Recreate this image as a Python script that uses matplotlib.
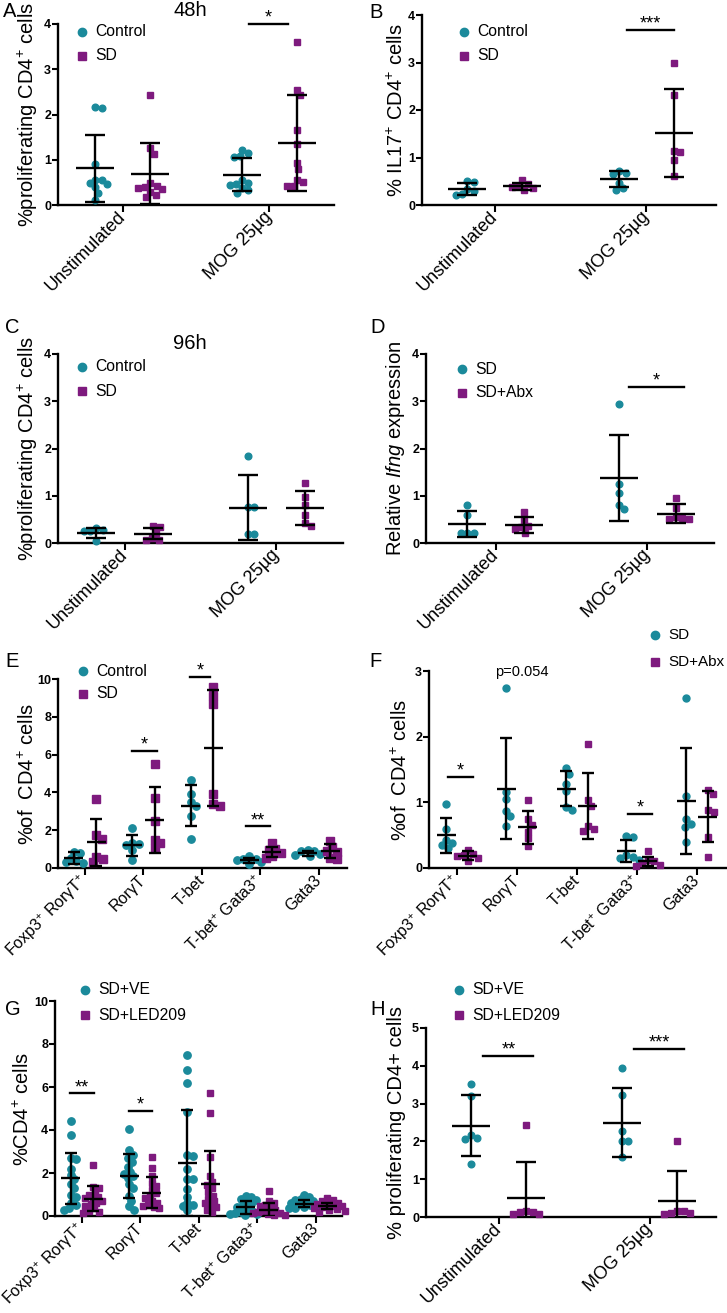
import numpy as np
import matplotlib
matplotlib.use('Agg')
import matplotlib.pyplot as plt
from matplotlib.lines import Line2D

plt.rcParams['font.family'] = ['Liberation Sans', 'DejaVu Sans']
plt.rcParams['mathtext.fontset'] = 'custom'
plt.rcParams['mathtext.rm'] = 'Liberation Sans'
plt.rcParams['mathtext.it'] = 'Liberation Sans:italic'
plt.rcParams['mathtext.bf'] = 'Liberation Sans:bold'

TEAL = '#1b8a9b'
PURPLE = '#7e1a7e'
W, H = 727, 1313

stim_labels = ['Unstimulated', 'MOG 25µg']
cell_labels = ['Foxp3$^{+}$ RorγT$^{+}$', 'RorγT', 'T-bet', 'T-bet$^{+}$ Gata3$^{+}$', 'Gata3']

# A - 48h proliferation
a_ctrl = [[2.17, 2.14, 0.91, 0.56, 0.55, 0.48, 0.46, 0.40, 0.27, 0.10],
          [1.22, 1.16, 1.08, 1.05, 0.55, 0.48, 0.46, 0.45, 0.37, 0.33, 0.27]]
a_sd = [[2.42, 1.25, 1.13, 0.48, 0.43, 0.39, 0.38, 0.35, 0.28, 0.22, 0.17],
        [3.61, 2.55, 2.42, 1.65, 1.35, 0.93, 0.79, 0.56, 0.51, 0.43, 0.42]]
a_ctrl_mean, a_ctrl_err = [0.81, 0.67], [0.735, 0.37]
a_sd_mean, a_sd_err = [0.69, 1.38], [0.67, 1.06]

# B - IL17
b_ctrl = [[0.50, 0.48, 0.33, 0.30, 0.24, 0.22],
          [0.71, 0.67, 0.65, 0.47, 0.35, 0.32]]
b_sd = [[0.52, 0.44, 0.40, 0.37, 0.35, 0.31],
        [3.00, 2.32, 1.13, 1.11, 0.95, 0.61]]
b_ctrl_mean, b_ctrl_err = [0.34, 0.55], [0.125, 0.165]
b_sd_mean, b_sd_err = [0.39, 1.52], [0.08, 0.93]

# C - 96h proliferation
c_ctrl = [[0.32, 0.27, 0.26, 0.25, 0.05],
          [1.85, 0.76, 0.76, 0.19, 0.19]]
c_sd = [[0.35, 0.34, 0.22, 0.10, 0.07, 0.06],
        [1.28, 0.98, 0.80, 0.60, 0.42, 0.35]]
c_ctrl_mean, c_ctrl_err = [0.22, 0.75], [0.105, 0.68]
c_sd_mean, c_sd_err = [0.20, 0.74], [0.125, 0.35]

# D - Ifng expression
d_sd = [[0.80, 0.60, 0.21, 0.21, 0.21],
        [2.95, 1.25, 1.06, 0.81, 0.72]]
d_abx = [[0.66, 0.47, 0.35, 0.34, 0.30, 0.22],
         [0.96, 0.75, 0.55, 0.53, 0.50, 0.50]]
d_sd_mean, d_sd_err = [0.41, 1.37], [0.275, 0.91]
d_abx_mean, d_abx_err = [0.38, 0.62], [0.165, 0.195]

# E - T cell subsets, Control vs SD
e_ctrl = [[0.86, 0.82, 0.55, 0.35, 0.30, 0.25],
          [2.10, 1.30, 1.25, 1.20, 0.95, 0.40],
          [4.67, 3.93, 3.50, 3.30, 2.75, 1.52],
          [0.62, 0.50, 0.45, 0.40, 0.30, 0.22],
          [0.95, 0.92, 0.88, 0.75, 0.70, 0.62]]
e_sd = [[3.65, 1.72, 1.55, 0.60, 0.50, 0.30],
        [5.50, 3.70, 2.50, 1.50, 1.30, 1.05],
        [9.60, 9.10, 8.70, 3.90, 3.40, 3.30],
        [1.30, 1.00, 0.95, 0.80, 0.65, 0.55],
        [1.45, 1.12, 0.92, 0.85, 0.55, 0.45]]
e_ctrl_mean, e_ctrl_err = [0.52, 1.20, 3.30, 0.42, 0.78], [0.32, 0.56, 1.07, 0.13, 0.12]
e_sd_mean, e_sd_err = [1.37, 2.55, 6.35, 0.85, 0.88], [1.24, 1.73, 3.08, 0.26, 0.37]

# F - T cell subsets, SD vs SD+Abx
f_sd = [[0.98, 0.60, 0.43, 0.38, 0.35, 0.30],
        [2.74, 1.15, 1.05, 0.87, 0.79, 0.64],
        [1.52, 1.43, 1.28, 1.18, 0.93, 0.89],
        [0.48, 0.47, 0.20, 0.17, 0.15, 0.12],
        [2.59, 1.10, 0.74, 0.67, 0.62, 0.40]]
f_abx = [[0.28, 0.22, 0.20, 0.18, 0.15, 0.11],
         [1.04, 0.74, 0.66, 0.55, 0.45, 0.34],
         [1.89, 1.04, 0.95, 0.64, 0.60, 0.57],
         [0.26, 0.12, 0.10, 0.08, 0.05, 0.03],
         [1.19, 1.12, 0.88, 0.85, 0.47, 0.17]]
f_sd_mean, f_sd_err = [0.50, 1.21, 1.21, 0.26, 1.02], [0.265, 0.77, 0.26, 0.17, 0.80]
f_abx_mean, f_abx_err = [0.19, 0.62, 0.94, 0.10, 0.78], [0.065, 0.25, 0.50, 0.07, 0.39]

# G - T cell subsets, SD+VE vs SD+LED209
g_ve = [[4.40, 3.75, 2.70, 2.65, 2.20, 1.90, 1.70, 1.50, 1.30, 1.00, 0.90, 0.60, 0.50, 0.35, 0.30],
        [4.05, 3.05, 2.85, 2.70, 2.50, 2.30, 2.05, 1.95, 1.85, 1.75, 1.50, 1.30, 0.95, 0.70, 0.45, 0.30],
        [7.50, 6.80, 6.20, 4.85, 2.85, 2.80, 2.20, 1.70, 1.70, 1.25, 0.90, 0.60, 0.50, 0.45, 0.30],
        [0.95, 0.90, 0.80, 0.75, 0.65, 0.55, 0.45, 0.40, 0.30, 0.25, 0.20, 0.15, 0.10, 0.08, 0.05],
        [1.00, 0.88, 0.80, 0.75, 0.70, 0.65, 0.60, 0.55, 0.50, 0.48, 0.45, 0.40, 0.38, 0.35]]
g_led = [[2.35, 1.35, 1.30, 1.10, 1.00, 0.90, 0.85, 0.80, 0.70, 0.60, 0.55, 0.45, 0.35, 0.25, 0.20, 0.15],
         [2.75, 2.25, 1.85, 1.55, 1.40, 1.20, 1.05, 0.95, 0.85, 0.70, 0.60, 0.50, 0.45, 0.40, 0.35],
         [5.70, 4.80, 2.75, 1.85, 1.60, 1.45, 1.30, 1.10, 0.95, 0.80, 0.70, 0.60, 0.50, 0.40, 0.30, 0.20],
         [1.15, 0.70, 0.60, 0.50, 0.45, 0.35, 0.30, 0.25, 0.20, 0.15, 0.12, 0.10, 0.06, 0.04],
         [0.82, 0.75, 0.70, 0.62, 0.58, 0.52, 0.48, 0.45, 0.40, 0.36, 0.32, 0.28, 0.22, 0.18]]
g_ve_mean, g_ve_err = [1.75, 1.87, 2.47, 0.40, 0.58], [1.20, 1.02, 2.45, 0.30, 0.16]
g_led_mean, g_led_err = [0.80, 1.08, 1.50, 0.30, 0.47], [0.58, 0.72, 1.52, 0.30, 0.14]

# H - proliferation, SD+VE vs SD+LED209
h_ve = [[3.53, 3.20, 2.17, 2.10, 2.07, 1.41],
        [3.95, 3.22, 2.27, 2.02, 2.00, 1.59]]
h_led = [[2.43, 0.16, 0.14, 0.13, 0.08, 0.07],
         [2.02, 0.16, 0.15, 0.10, 0.10, 0.07]]
h_ve_mean, h_ve_err = [2.42, 2.50], [0.80, 0.90]
h_led_mean, h_led_err = [0.51, 0.43], [0.94, 0.78]

fig = plt.figure(figsize=(W / 100, H / 100), dpi=100)


def make_ax(l, r, top, bot, xlim, ymax, ystep, xlabels, ylabel, label_dx=-18, xfs=13):
    ax = fig.add_axes([l / W, 1 - bot / H, (r - l) / W, (bot - top) / H])
    ax.set_xlim(xlim)
    ax.set_ylim(0, ymax)
    ax.spines[['top', 'right']].set_visible(False)
    for s in ['left', 'bottom']:
        ax.spines[s].set_linewidth(1.7)
    yt = np.arange(0, ymax + 0.001, ystep)
    ax.set_yticks(yt)
    ax.set_yticklabels([f'{v:g}' for v in yt], fontweight='bold', fontsize=9)
    ax.tick_params(axis='y', length=4, width=1.5, pad=1)
    ax.tick_params(axis='x', length=5, width=1.5, pad=2)
    ax.set_xticks(range(len(xlabels)))
    ax.set_xticklabels(xlabels, rotation=45, ha='right', va='center',
                       rotation_mode='anchor', fontsize=xfs)
    ax.set_ylabel(ylabel, fontsize=14.5)
    ax.yaxis.set_label_coords(label_dx / (r - l), 0.5)
    return ax


def px_scale(ax):
    pos = ax.get_position()
    x0, x1 = ax.get_xlim()
    y0, y1 = ax.get_ylim()
    return pos.width * W / (x1 - x0), pos.height * H / (y1 - y0)


def swarm(ax, xc, vals, diam):
    sx, sy = px_scale(ax)
    placed, xs = [], []
    for v in vals:
        yp = v * sy
        done = False
        for k in range(400):
            for s in ([0.0] if k == 0 else [0.5 * k, -0.5 * k]):
                if all((s - px) ** 2 + (yp - py) ** 2 >= diam ** 2 for px, py in placed):
                    done = True
                    break
            if done:
                break
        placed.append((s, yp))
        xs.append(xc + s / sx)
    return xs


def group(ax, data, means, errs, off, color, marker, ms, diam, mw_px, cw_px):
    sx, sy = px_scale(ax)
    mw, cw = mw_px / sx, cw_px / sx
    for i, vals in enumerate(data):
        xc = i + off
        xs = swarm(ax, xc, vals, diam)
        ax.plot(xs, vals, ls='none', marker=marker, color=color, ms=ms,
                mec=color, clip_on=False, zorder=3)
        m, e = means[i], errs[i]
        lo, hi = max(m - e, 0), m + e
        kw = dict(color='black', lw=1.7, zorder=4, solid_capstyle='butt')
        ax.plot([xc - mw, xc + mw], [m, m], **kw)
        ax.plot([xc, xc], [lo, hi], **kw)
        ax.plot([xc - cw, xc + cw], [hi, hi], **kw)
        if m - e >= 0:
            ax.plot([xc - cw, xc + cw], [lo, lo], **kw)


def sig(ax, x0, x1, y, text, fs=13):
    ax.plot([x0, x1], [y, y], color='black', lw=1.7, clip_on=False)
    ax.annotate(text, xy=((x0 + x1) / 2, y), xytext=(0, 1), textcoords='offset points',
                ha='center', va='baseline', fontsize=fs, annotation_clip=False)


def legend(x, y, labels, gap, fs=11.3):
    for i, (lab, c, m) in enumerate(zip(labels, [TEAL, PURPLE], ['o', 's'])):
        yy = 1 - (y + i * gap) / H
        fig.add_artist(Line2D([x / W], [yy], marker=m, color=c, ms=6 if m == 'o' else 5.5,
                              ls='none', transform=fig.transFigure))
        fig.text((x + 13) / W, yy, lab, fontsize=fs, va='center', ha='left')


def panel_letter(x, y, s):
    fig.text(x / W, 1 - y / H, s, fontsize=14.5, va='top', ha='left')


# A
ax = make_ax(58, 334, 24, 205, (-0.44, 1.44), 4, 1, stim_labels, '%proliferating CD4$^{+}$ cells', -18)
group(ax, a_ctrl, a_ctrl_mean, a_ctrl_err, -0.1875, TEAL, 'o', 4.8, 6.5, 19, 10)
group(ax, a_sd, a_sd_mean, a_sd_err, 0.1875, PURPLE, 's', 4.5, 6.5, 19, 10)
sig(ax, 0.86, 1.13, 4.0, '*')
legend(82, 32, ['Control', 'SD'], 23.5)
fig.text(190 / W, 1 - 11 / H, '48h', fontsize=14.5, ha='center', va='center')
panel_letter(3, 2, 'A')

# B
ax = make_ax(422, 716, 15, 205, (-0.48, 1.46), 4, 1, stim_labels, '% IL17$^{+}$ CD4$^{+}$ cells', -15)
group(ax, b_ctrl, b_ctrl_mean, b_ctrl_err, -0.18, TEAL, 'o', 4.8, 6.5, 19, 10)
group(ax, b_sd, b_sd_mean, b_sd_err, 0.18, PURPLE, 's', 4.5, 6.5, 19, 10)
sig(ax, 0.87, 1.18, 3.68, '***')
legend(464, 32, ['Control', 'SD'], 23.5)
panel_letter(369, 3, 'B')

# C
ax = make_ax(58, 343, 354, 543, (-0.44, 1.44), 4, 1, stim_labels, '%proliferating CD4$^{+}$ cells', -18)
group(ax, c_ctrl, c_ctrl_mean, c_ctrl_err, -0.187, TEAL, 'o', 4.8, 6.5, 19, 10)
group(ax, c_sd, c_sd_mean, c_sd_err, 0.187, PURPLE, 's', 4.5, 6.5, 19, 10)
legend(82, 367, ['Control', 'SD'], 24)
fig.text(190 / W, 1 - 343 / H, '96h', fontsize=14.5, ha='center', va='center')
panel_letter(5, 318, 'C')

# D
ax = make_ax(426, 714, 354, 543, (-0.46, 1.44), 4, 1, stim_labels, 'Relative $\\mathit{Ifng}$ expression', -19)
group(ax, d_sd, d_sd_mean, d_sd_err, -0.187, TEAL, 'o', 4.8, 6.5, 19, 10)
group(ax, d_abx, d_abx_mean, d_abx_err, 0.187, PURPLE, 's', 4.5, 6.5, 19, 10)
sig(ax, 0.88, 1.24, 3.3, '*')
legend(462, 369, ['SD', 'SD+Abx'], 24)
panel_letter(370, 318, 'D')

# E
ax = make_ax(58, 347, 679, 868, (-0.46, 4.48), 10, 2, cell_labels, '%of  CD4$^{+}$ cells', -20, 11.5)
group(ax, e_ctrl, e_ctrl_mean, e_ctrl_err, -0.194, TEAL, 'o', 5.3, 6.5, 9.5, 6)
group(ax, e_sd, e_sd_mean, e_sd_err, 0.194, PURPLE, 's', 5.3, 6.5, 9.5, 6)
sig(ax, 0.8, 1.23, 6.2, '*')
sig(ax, 1.79, 2.14, 10.1, '*')
sig(ax, 2.76, 3.16, 2.2, '**')
legend(83, 671, ['Control', 'SD'], 22.5)
panel_letter(5, 652, 'E')

# F
ax = make_ax(429, 727, 671, 868, (-0.47, 4.5), 3, 1, cell_labels, '%of  CD4$^{+}$ cells', -18, 11.5)
group(ax, f_sd, f_sd_mean, f_sd_err, -0.18, TEAL, 'o', 5.0, 6.5, 9.5, 6)
group(ax, f_abx, f_abx_mean, f_abx_err, 0.18, PURPLE, 's', 4.8, 6.5, 9.5, 6)
sig(ax, -0.15, 0.26, 1.39, '*')
sig(ax, 2.85, 3.25, 0.82, '*')
ax.text(1.08, 2.99, 'p=0.054', fontsize=10.5, ha='center', va='center')
legend(655, 635, ['SD', 'SD+Abx'], 27, fs=11)
panel_letter(369, 652, 'F')

# G
ax = make_ax(55, 342, 1001, 1216, (-0.46, 4.45), 10, 2, cell_labels, '%CD4$^{+}$ cells', -22, 11.5)
group(ax, g_ve, g_ve_mean, g_ve_err, -0.194, TEAL, 'o', 5.3, 5.5, 9.5, 6)
group(ax, g_led, g_led_mean, g_led_err, 0.194, PURPLE, 's', 5.0, 5.5, 9.5, 6)
sig(ax, -0.2, 0.2, 5.7, '**')
sig(ax, 0.8, 1.2, 4.9, '*')
legend(85, 990, ['SD+VE', 'SD+LED209'], 25)
panel_letter(5, 1000, 'G')

# H
ax = make_ax(426, 716, 1028, 1217, (-0.48, 1.44), 5, 1, stim_labels, '% proliferating CD4+ cells', -20)
group(ax, h_ve, h_ve_mean, h_ve_err, -0.185, TEAL, 'o', 4.8, 6.5, 19, 10)
group(ax, h_led, h_led_mean, h_led_err, 0.185, PURPLE, 's', 4.5, 6.5, 19, 10)
sig(ax, -0.1, 0.23, 4.25, '**')
sig(ax, 0.9, 1.23, 4.45, '***')
legend(459, 990, ['SD+VE', 'SD+LED209'], 25)
panel_letter(370, 1000, 'H')

fig.savefig('out.png', dpi=100)
